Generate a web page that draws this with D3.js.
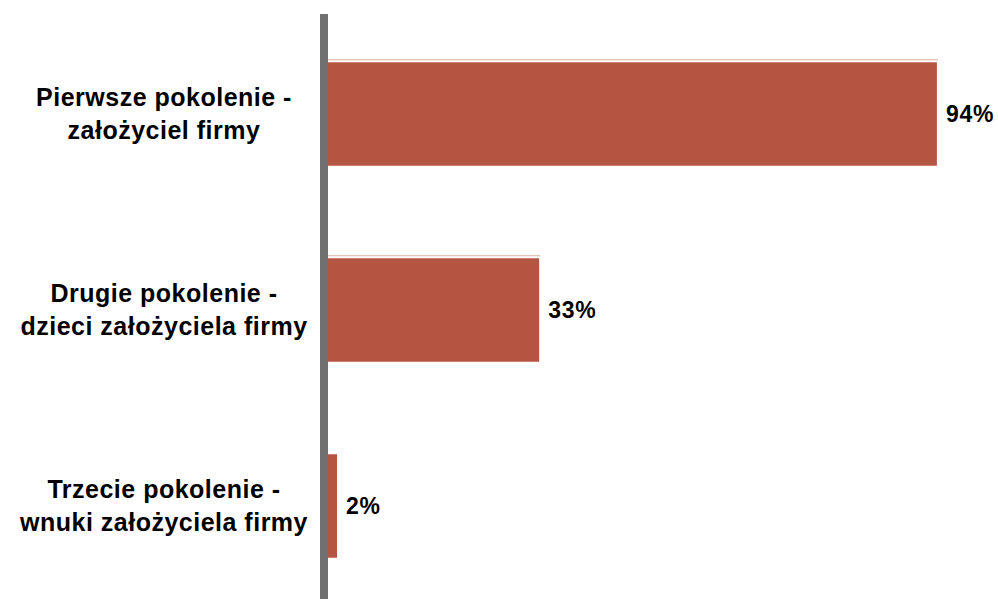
<!DOCTYPE html>
<html>
<head>
<meta charset="utf-8">
<script src="https://cdn.jsdelivr.net/npm/d3@7"></script>
<style>
  html, body { margin: 0; padding: 0; background: #ffffff; }
  svg { display: block; }
  text { font-family: "Liberation Sans", Arial, sans-serif; font-weight: bold; fill: #000; }
</style>
</head>
<body>
<script>
// Generations running the firm (share of respondents, %)
const categoryLines = [
  ["Pierwsze pokolenie -", "założyciel firmy"],
  ["Drugie pokolenie -", "dzieci założyciela firmy"],
  ["Trzecie pokolenie -", "wnuki założyciela firmy"]
];
const categories = ["Pierwsze", "Drugie", "Trzecie"];
const values = [94, 33, 2];
const valueLabels = ["94%", "33%", "2%"];

const W = 998, H = 599;
const svg = d3.select("body").append("svg").attr("width", W).attr("height", H);

const x = d3.scaleLinear().domain([0, 100]).range([324, 976]);
const y = d3.scaleBand().domain(categories).range([16, 604])
  .paddingInner(0.472).paddingOuter(0.236);

const barColor = "#b45542";

const rows = categories.map((c, i) => ({ c, v: values[i], label: valueLabels[i], lines: categoryLines[i] }));

// thin highlight line just above each wide bar
svg.append("g").selectAll("line").data(rows.filter(d => x(d.v) - x(0) > 20)).join("line")
  .attr("x1", x(0)).attr("x2", d => x(d.v) + 1)
  .attr("y1", d => y(d.c) - 2.5).attr("y2", d => y(d.c) - 2.5)
  .attr("stroke", "#dcaea2").attr("stroke-width", 1);

// bars
svg.append("g").selectAll("rect").data(rows).join("rect")
  .attr("x", x(0)).attr("y", d => y(d.c))
  .attr("width", d => x(d.v) - x(0)).attr("height", y.bandwidth())
  .attr("fill", barColor);

// value labels
svg.append("g").selectAll("text").data(rows).join("text")
  .attr("x", d => x(d.v) + 9)
  .attr("y", d => y(d.c) + y.bandwidth() / 2 + 8)
  .attr("font-size", 23)
  .attr("letter-spacing", 0.8)
  .text(d => d.label);

// category labels (two lines each)
const cat = svg.append("g").selectAll("text").data(rows).join("text")
  .attr("text-anchor", "middle")
  .attr("font-size", 25)
  .attr("letter-spacing", 0.5);
cat.selectAll("tspan").data(d => d.lines.map((t, j) => ({ t, j, c: d.c }))).join("tspan")
  .attr("x", 164)
  .attr("y", d => y(d.c) + y.bandwidth() / 2 + (d.j - 0.5) * 33.3 + 8.5)
  .text(d => d.t);

// vertical axis line
svg.append("line")
  .attr("x1", x(0)).attr("x2", x(0))
  .attr("y1", 14).attr("y2", H)
  .attr("stroke", "#707070").attr("stroke-width", 8);
</script>
</body>
</html>
